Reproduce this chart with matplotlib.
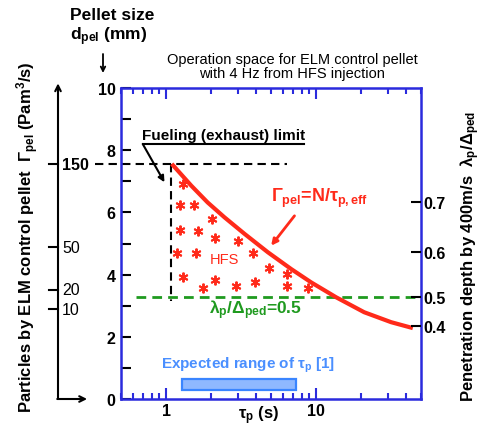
import numpy as np
import matplotlib
matplotlib.use('Agg')
import matplotlib.pyplot as plt
from matplotlib.ticker import NullFormatter, FixedLocator

plt.rcParams['font.family'] = ['Liberation Sans', 'DejaVu Sans']
plt.rcParams['font.weight'] = 'bold'
plt.rcParams['mathtext.fontset'] = 'custom'
plt.rcParams['mathtext.rm'] = 'Liberation Sans:bold'
plt.rcParams['mathtext.it'] = 'Liberation Sans:bold'
plt.rcParams['mathtext.bf'] = 'Liberation Sans:bold'

# --- data (x = tau_p in s, y = pellet size d_pel in mm)
tau_curve = [1.09, 1.47, 1.89, 2.45, 3.33, 4.76, 6.81, 9.26, 13.6, 20.9, 31.6, 44.1]
dpel_curve = [7.56, 6.86, 6.32, 5.84, 5.31, 4.72, 4.18, 3.75, 3.27, 2.79, 2.47, 2.28]

tau_stars = [1.29, 1.23, 1.53, 2.03, 1.23, 1.62, 2.12, 3.00, 1.19, 1.58,
             3.78, 4.88, 6.41, 1.29, 2.12, 2.90, 3.92, 6.41, 1.75, 8.89]
dpel_stars = [6.91, 6.24, 6.24, 5.79, 5.44, 5.39, 5.18, 5.07, 4.68, 4.68,
              4.68, 4.21, 4.02, 3.91, 3.83, 3.62, 3.75, 3.62, 3.57, 3.57]

fuel_dpel = 7.55
fuel_tau = 1.08
fuel_line_tau = [0.333, 6.44]
fuel_vert_dpel = [7.55, 3.15]
lam_dpel = 3.27
lam_line_tau = [0.634, 50.0]

tau_range = [1.28, 7.36]

# right axis: lambda_p / Delta_ped (positions on d_pel scale)
rhs_pos = [6.32, 4.74, 3.27, 2.36]
rhs_labels = ['0.7', '0.6', '0.5', '0.4']
# outer left axis: Gamma_pel (Pam^3/s)
gam_pos = [7.55, 4.88, 3.52, 2.88]
gam_labels = ['150', '50', '20', '10']

red = '#ff2a1a'
green = '#1f9a1f'
blue = '#2b2bdd'
lblue = '#4a8fff'

fig = plt.figure(figsize=(4.85, 4.39), dpi=100)
ax = fig.add_axes([121 / 485, 1 - 400 / 439, 300 / 485, 311 / 439])
ax.set_xscale('log')
ax.set_xlim(0.5, 50)
ax.set_ylim(0, 10)

for s in ax.spines.values():
    s.set_color(blue)
    s.set_linewidth(1.8)

ax.set_xticks([1, 10])
ax.set_xticklabels(['1', '10'])
ax.xaxis.set_minor_formatter(NullFormatter())
ax.tick_params(axis='x', which='both', direction='in', top=True, color=blue,
               labelcolor='black', width=1.5, labelsize=11.5, pad=3)
ax.tick_params(axis='x', which='major', length=8)
ax.tick_params(axis='x', which='minor', length=4)

ax.set_yticks([0, 2, 4, 6, 8, 10])
ax.yaxis.set_minor_locator(FixedLocator([1, 3, 5, 7, 9]))
ax.tick_params(axis='y', which='both', direction='in', length=7, width=1.5,
               color='black', labelsize=11.5, pad=4)

ax2 = ax.twinx()
ax2.set_ylim(0, 10)
ax2.set_yticks(rhs_pos)
ax2.set_yticklabels(rhs_labels)
ax2.tick_params(axis='y', direction='in', length=7, width=1.5, labelsize=11.5, pad=2)
for s in ax2.spines.values():
    s.set_visible(False)

# curves and limits
ax.plot(fuel_line_tau, [fuel_dpel, fuel_dpel], color='black', lw=1.5,
        dashes=(4, 2.5), clip_on=False)
ax.plot([fuel_tau, fuel_tau], fuel_vert_dpel, color='black', lw=1.5, dashes=(4, 2.5))
ax.plot(lam_line_tau, [lam_dpel, lam_dpel], color=green, lw=2, dashes=(3.5, 2.2))
ax.plot(tau_curve, dpel_curve, color=red, lw=3, solid_capstyle='butt')
ax.plot(tau_stars, dpel_stars, ls='none', marker=(6, 2, 0), markersize=7,
        mew=1.4, color=red)

ax.barh(0.47, tau_range[1] - tau_range[0], left=tau_range[0], height=0.34,
        color='#8fb8ff', edgecolor='#3a85ff', lw=1.6)

# annotations
ax.plot([0.698, 8.36], [8.2, 8.2], color='black', lw=1.5)
ax.annotate('', xy=(0.974, 6.97), xytext=(0.698, 8.2),
            arrowprops=dict(arrowstyle='-|>', color='black', lw=1.5,
                            mutation_scale=9, shrinkA=0, shrinkB=0))
ax.text(0.693, 8.5, 'Fueling (exhaust) limit', fontsize=11, va='center', ha='left')

ax.text(5.01, 6.38, r'$\Gamma_{pel}$=N/$\tau_{p,eff}$', color=red, fontsize=13,
        va='baseline', ha='left')
ax.annotate('', xy=(5.01, 4.93), xytext=(7.17, 5.89),
            arrowprops=dict(arrowstyle='-|>', color=red, lw=2,
                            mutation_scale=9, shrinkA=0, shrinkB=0))
ax.text(1.945, 4.5, 'HFS', color=red, fontsize=10.5, fontweight='normal',
        va='center', ha='left')
ax.text(1.945, 2.89, r'$\lambda_p/\Delta_{ped}$=0.5', color=green, fontsize=12.5,
        va='center', ha='left')
ax.text(0.926, 1.13, r'Expected range of $\tau_p$ [1]', color=lblue, fontsize=11,
        va='center', ha='left')

# outer Gamma_pel axis
ytr = ax.get_yaxis_transform()
ax.annotate('', xy=(-0.21, 10.15), xytext=(-0.21, 0), xycoords=ytr, textcoords=ytr,
            arrowprops=dict(arrowstyle='->', color='black', lw=1.5,
                            shrinkA=0, shrinkB=0, mutation_scale=10))
ax.annotate('', xy=(-0.113, 0), xytext=(-0.2125, 0), xycoords=ytr, textcoords=ytr,
            arrowprops=dict(arrowstyle='->', color='black', lw=1.5,
                            shrinkA=0, shrinkB=0, mutation_scale=10))
for yv, lab in zip(gam_pos, gam_labels):
    ax.plot([-0.24, -0.21], [yv, yv], transform=ytr, clip_on=False,
            color='black', lw=1.5)
    ax.text(-0.197, yv, lab, transform=ytr, fontsize=11.5, va='center', ha='left',
            fontweight='bold' if lab == '150' else 'normal')

# figure-level labels
fig.text(70 / 485, 1 - 16 / 439, 'Pellet size', fontsize=12.5, va='center', ha='left')
fig.text(70 / 485, 1 - 37 / 439, r'd$_{pel}$ (mm)', fontsize=12.5, va='center', ha='left')
ax.annotate('', xy=(103, 439 - 74), xytext=(103, 439 - 55),
            xycoords='figure pixels', textcoords='figure pixels',
            arrowprops=dict(arrowstyle='->', color='black', lw=1.3,
                            shrinkA=0, shrinkB=0, mutation_scale=8))
fig.text(292 / 485, 1 - 67 / 439,
         'Operation space for ELM control pellet\nwith 4 Hz from HFS injection',
         fontsize=10.5, fontweight='normal', ha='center', va='center', linespacing=1.05)
fig.text(259 / 485, 1 - 416 / 439, r'$\tau_p$ (s)', fontsize=12, ha='center', va='center')
fig.text(28 / 485, 1 - 237 / 439,
         r'Particles by ELM control pellet  $\Gamma_{pel}$ (Pam$^3$/s)',
         fontsize=12, rotation=90, ha='center', va='center')
fig.text(470 / 485, 1 - 256 / 439,
         r'Penetration depth by 400m/s  $\lambda_p/\Delta_{ped}$',
         fontsize=12, rotation=90, ha='center', va='center')

fig.savefig('out.png', dpi=100)
